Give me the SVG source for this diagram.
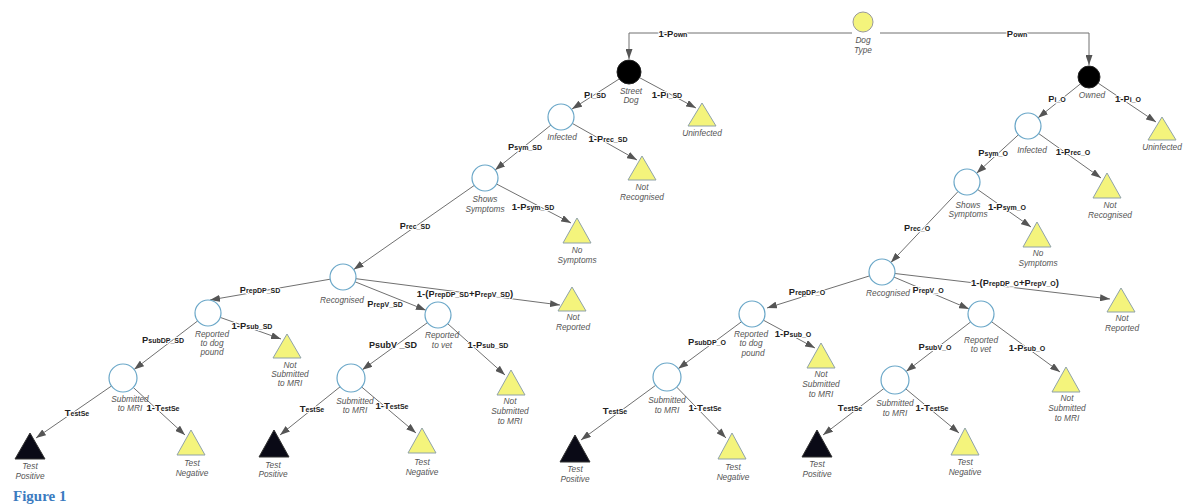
<svg xmlns="http://www.w3.org/2000/svg" width="1192" height="504" viewBox="0 0 1192 504">
<style>
.c{fill:#fff;stroke:#6aa7c8;stroke-width:1.2}
.b{fill:#000;stroke:#222;stroke-width:1}
.y{fill:#f4f47c;stroke:#8fa2aa;stroke-width:1}
.k{fill:#0a0a16;stroke:#333;stroke-width:1}
.dt{fill:#f4f47c;stroke:#999;stroke-width:1}
.e{fill:none;stroke:#707070;stroke-width:1;marker-end:url(#ah)}
.nl{font-family:"Liberation Sans",Arial,sans-serif;font-style:italic;font-size:8.3px;fill:#555;text-anchor:middle}
.el{font-family:"Liberation Sans",Arial,sans-serif;font-weight:bold;font-size:9.5px;fill:#222;text-anchor:middle;paint-order:stroke;stroke:#fff;stroke-width:2px;stroke-linejoin:round}
.s{font-size:7px}
.fig{font-family:"Liberation Serif",serif;font-weight:bold;font-size:15px;fill:#3b7bbf}
</style>
<defs>
<marker id="ah" markerWidth="10" markerHeight="7" refX="10" refY="3.5" orient="auto" markerUnits="userSpaceOnUse">
<path d="M0,0 L10,3.5 L0,7 z" fill="#555"/>
</marker>
</defs>
<rect width="1192" height="504" fill="#fff"/>

<g id="connectors">
<path class="e" d="M852,33 H629 V59"/>
<path class="e" d="M880,33 H1089 V65"/>
<path class="e" d="M619.9,78.5 L572,109"/>
<path class="e" d="M639.6,77.7 L696,108"/>
<path class="e" d="M572.3,123.4 L637,160"/>
<path class="e" d="M550.9,125.1 L495.1,169.9"/>
<path class="e" d="M496.5,184 L571,223"/>
<path class="e" d="M474.3,185.4 L353.7,269.6"/>
<path class="e" d="M330.2,279.2 L210,300"/>
<path class="e" d="M355.1,281.8 L425.9,310.2"/>
<path class="e" d="M355.9,278.7 L560,305"/>
<path class="e" d="M197.7,320.9 L134.1,369.5"/>
<path class="e" d="M220.2,317.4 L281,339"/>
<path class="e" d="M427.5,322.6 L362.3,369.8"/>
<path class="e" d="M447.7,323.7 L505,375"/>
<path class="e" d="M111.5,386 L36,438"/>
<path class="e" d="M133.3,387.5 L185,435"/>
<path class="e" d="M340.1,386.8 L280,435"/>
<path class="e" d="M361.7,387 L416,433"/>
<path class="e" d="M1080.4,83.9 L1038.1,117.8"/>
<path class="e" d="M1098.1,83.1 L1156,122"/>
<path class="e" d="M1038.6,133.5 L1101,178"/>
<path class="e" d="M1018.4,134.8 L976.6,173.2"/>
<path class="e" d="M977.6,189.5 L1031,227"/>
<path class="e" d="M958.1,191.5 L890.9,262.5"/>
<path class="e" d="M869.6,275.9 L767,308"/>
<path class="e" d="M894,277.1 L969,308.9"/>
<path class="e" d="M894.9,273.5 L1110,299"/>
<path class="e" d="M741.6,321.7 L678.2,368.7"/>
<path class="e" d="M763.4,320.2 L815,348"/>
<path class="e" d="M970.7,321.9 L906.1,371.5"/>
<path class="e" d="M991.5,321.7 L1060,372"/>
<path class="e" d="M655.7,385.3 L581,440"/>
<path class="e" d="M676.7,387.1 L726,438"/>
<path class="e" d="M883.9,388.5 L823,435"/>
<path class="e" d="M905.8,388.9 L959,433"/>

<text class="el" x="673" y="36.5">1-P<tspan class="s">own</tspan></text>
<text class="el" x="1017" y="36.5">P<tspan class="s">own</tspan></text>
<text class="el" x="595" y="98">P<tspan class="s">i_SD</tspan></text>
<text class="el" x="667" y="98">1-P<tspan class="s">i_SD</tspan></text>
<text class="el" x="608" y="142">1-P<tspan class="s">rec_SD</tspan></text>
<text class="el" x="525" y="150">P<tspan class="s">sym_SD</tspan></text>
<text class="el" x="533" y="210">1-P<tspan class="s">sym_SD</tspan></text>
<text class="el" x="415" y="229">P<tspan class="s">rec_SD</tspan></text>
<text class="el" x="260" y="293">P<tspan class="s">repDP_SD</tspan></text>
<text class="el" x="385" y="307">P<tspan class="s">repV_SD</tspan></text>
<text class="el" x="465" y="297">1-(P<tspan class="s">repDP_SD</tspan>+P<tspan class="s">repV_SD</tspan>)</text>
<text class="el" x="252" y="329">1-P<tspan class="s">sub_SD</tspan></text>
<text class="el" x="163" y="343">P<tspan class="s">subDP_SD</tspan></text>
<text class="el" x="393" y="348" style="font-size:9px">PsubV _SD</text>
<text class="el" x="488" y="348">1-P<tspan class="s">sub_SD</tspan></text>
<text class="el" x="77" y="416">T<tspan class="s">estSe</tspan></text>
<text class="el" x="163" y="411">1-T<tspan class="s">estSe</tspan></text>
<text class="el" x="312" y="412">T<tspan class="s">estSe</tspan></text>
<text class="el" x="392" y="409">1-T<tspan class="s">estSe</tspan></text>
<text class="el" x="1057" y="102">P<tspan class="s">i_O</tspan></text>
<text class="el" x="1128" y="102">1-P<tspan class="s">i_O</tspan></text>
<text class="el" x="993" y="156">P<tspan class="s">sym_O</tspan></text>
<text class="el" x="1073" y="155">1-P<tspan class="s">rec_O</tspan></text>
<text class="el" x="1007" y="210">1-P<tspan class="s">sym_O</tspan></text>
<text class="el" x="917" y="231">P<tspan class="s">rec_O</tspan></text>
<text class="el" x="807" y="295">P<tspan class="s">repDP_O</tspan></text>
<text class="el" x="928" y="293">P<tspan class="s">repV_O</tspan></text>
<text class="el" x="1015" y="286">1-(P<tspan class="s">repDP_O</tspan>+P<tspan class="s">repV_O</tspan>)</text>
<text class="el" x="707" y="345">P<tspan class="s">subDP_O</tspan></text>
<text class="el" x="793" y="337">1-P<tspan class="s">sub_O</tspan></text>
<text class="el" x="935" y="350">P<tspan class="s">subV_O</tspan></text>
<text class="el" x="1027" y="351">1-P<tspan class="s">sub_O</tspan></text>
<text class="el" x="615" y="414">T<tspan class="s">estSe</tspan></text>
<text class="el" x="705" y="411">1-T<tspan class="s">estSe</tspan></text>
<text class="el" x="850" y="411">T<tspan class="s">estSe</tspan></text>
<text class="el" x="932" y="411">1-T<tspan class="s">estSe</tspan></text>
</g>

<g id="dog-type"><circle class="dt" cx="863" cy="22" r="10"/><text class="nl" x="863" y="43">Dog</text><text class="nl" x="863" y="53">Type</text></g>
<g id="street-dog"><circle class="b" cx="629" cy="72" r="12"/><text class="nl" x="631" y="94">Street</text><text class="nl" x="631" y="103">Dog</text></g>
<g id="owned"><circle class="b" cx="1089" cy="77" r="11"/><text class="nl" x="1092" y="98">Owned</text></g>

<g id="sd-uninfected"><polygon class="y" points="702,103 688,126 716,126"/><text class="nl" x="702" y="136">Uninfected</text></g>
<g id="sd-infected"><circle class="c" cx="561" cy="117" r="13"/><text class="nl" x="562" y="140">Infected</text></g>
<g id="sd-not-recognised"><polygon class="y" points="642,156 628,180 656,180"/><text class="nl" x="642" y="190">Not</text><text class="nl" x="642" y="200">Recognised</text></g>
<g id="sd-shows-symptoms"><circle class="c" cx="485" cy="178" r="13"/><text class="nl" x="485" y="202">Shows</text><text class="nl" x="485" y="212">Symptoms</text></g>
<g id="sd-no-symptoms"><polygon class="y" points="577,218 563,243 591,243"/><text class="nl" x="577" y="253">No</text><text class="nl" x="577" y="263">Symptoms</text></g>
<g id="sd-recognised"><circle class="c" cx="343" cy="277" r="13"/><text class="nl" x="342" y="303">Recognised</text></g>
<g id="sd-not-reported"><polygon class="y" points="572,287 558,311 586,311"/><text class="nl" x="573" y="320">Not</text><text class="nl" x="573" y="330">Reported</text></g>
<g id="sd-reported-dog-pound"><circle class="c" cx="208" cy="313" r="13"/><text class="nl" x="212" y="337">Reported</text><text class="nl" x="212" y="346">to dog</text><text class="nl" x="212" y="355">pound</text></g>
<g id="sd-reported-vet"><circle class="c" cx="438" cy="315" r="13"/><text class="nl" x="442" y="338">Reported</text><text class="nl" x="442" y="348">to vet</text></g>
<g id="sd-dp-not-submitted"><polygon class="y" points="287,334 273,358 301,358"/><text class="nl" x="290" y="368">Not</text><text class="nl" x="290" y="377">Submitted</text><text class="nl" x="290" y="386">to MRI</text></g>
<g id="sd-vet-not-submitted"><polygon class="y" points="511,370 497,395 525,395"/><text class="nl" x="510" y="404">Not</text><text class="nl" x="510" y="414">Submitted</text><text class="nl" x="510" y="424">to MRI</text></g>
<g id="sd-dp-submitted"><circle class="c" cx="123" cy="378" r="14"/><text class="nl" x="130" y="402">Submitted</text><text class="nl" x="130" y="411">to MRI</text></g>
<g id="sd-vet-submitted"><circle class="c" cx="351" cy="378" r="14"/><text class="nl" x="355" y="404">Submitted</text><text class="nl" x="355" y="413">to MRI</text></g>
<g id="sd-dp-test-positive"><polygon class="k" points="30,433 15,459 45,459"/><text class="nl" x="30" y="469">Test</text><text class="nl" x="30" y="479">Positive</text></g>
<g id="sd-dp-test-negative"><polygon class="y" points="191,430 177,455 205,455"/><text class="nl" x="192" y="466">Test</text><text class="nl" x="192" y="476">Negative</text></g>
<g id="sd-vet-test-positive"><polygon class="k" points="274,430 259,457 289,457"/><text class="nl" x="273" y="468">Test</text><text class="nl" x="273" y="477">Positive</text></g>
<g id="sd-vet-test-negative"><polygon class="y" points="422,428 408,453 436,453"/><text class="nl" x="422" y="465">Test</text><text class="nl" x="422" y="475">Negative</text></g>

<g id="o-uninfected"><polygon class="y" points="1162,117 1148,140 1176,140"/><text class="nl" x="1162" y="150">Uninfected</text></g>
<g id="o-infected"><circle class="c" cx="1028" cy="126" r="13"/><text class="nl" x="1032" y="153">Infected</text></g>
<g id="o-not-recognised"><polygon class="y" points="1107,173 1093,198 1121,198"/><text class="nl" x="1110" y="208">Not</text><text class="nl" x="1110" y="218">Recognised</text></g>
<g id="o-shows-symptoms"><circle class="c" cx="967" cy="182" r="13"/><text class="nl" x="968" y="208">Shows</text><text class="nl" x="968" y="217">Symptoms</text></g>
<g id="o-no-symptoms"><polygon class="y" points="1037,222 1023,247 1051,247"/><text class="nl" x="1038" y="256">No</text><text class="nl" x="1038" y="266">Symptoms</text></g>
<g id="o-recognised"><circle class="c" cx="882" cy="272" r="13"/><text class="nl" x="888" y="296">Recognised</text></g>
<g id="o-not-reported"><polygon class="y" points="1121,288 1107,312 1135,312"/><text class="nl" x="1122" y="321">Not</text><text class="nl" x="1122" y="331">Reported</text></g>
<g id="o-reported-dog-pound"><circle class="c" cx="752" cy="314" r="13"/><text class="nl" x="751" y="337">Reported</text><text class="nl" x="751" y="346">to dog</text><text class="nl" x="753" y="356">pound</text></g>
<g id="o-reported-vet"><circle class="c" cx="981" cy="314" r="13"/><text class="nl" x="981" y="343">Reported</text><text class="nl" x="981" y="352">to vet</text></g>
<g id="o-dp-not-submitted"><polygon class="y" points="821,343 807,368 835,368"/><text class="nl" x="821" y="377">Not</text><text class="nl" x="821" y="387">Submitted</text><text class="nl" x="821" y="397">to MRI</text></g>
<g id="o-vet-not-submitted"><polygon class="y" points="1066,367 1052,392 1080,392"/><text class="nl" x="1067" y="401">Not</text><text class="nl" x="1067" y="411">Submitted</text><text class="nl" x="1067" y="421">to MRI</text></g>
<g id="o-dp-submitted"><circle class="c" cx="667" cy="377" r="14"/><text class="nl" x="667" y="403">Submitted</text><text class="nl" x="667" y="413">to MRI</text></g>
<g id="o-vet-submitted"><circle class="c" cx="895" cy="380" r="14"/><text class="nl" x="895" y="406">Submitted</text><text class="nl" x="895" y="416">to MRI</text></g>
<g id="o-dp-test-positive"><polygon class="k" points="575,435 560,462 590,462"/><text class="nl" x="575" y="472">Test</text><text class="nl" x="575" y="482">Positive</text></g>
<g id="o-dp-test-negative"><polygon class="y" points="732,433 718,459 746,459"/><text class="nl" x="733" y="470">Test</text><text class="nl" x="733" y="480">Negative</text></g>
<g id="o-vet-test-positive"><polygon class="k" points="817,430 802,457 832,457"/><text class="nl" x="817" y="467">Test</text><text class="nl" x="817" y="477">Positive</text></g>
<g id="o-vet-test-negative"><polygon class="y" points="965,428 951,455 979,455"/><text class="nl" x="965" y="465">Test</text><text class="nl" x="965" y="475">Negative</text></g>

<text class="fig" x="13" y="501">Figure 1</text>
</svg>
